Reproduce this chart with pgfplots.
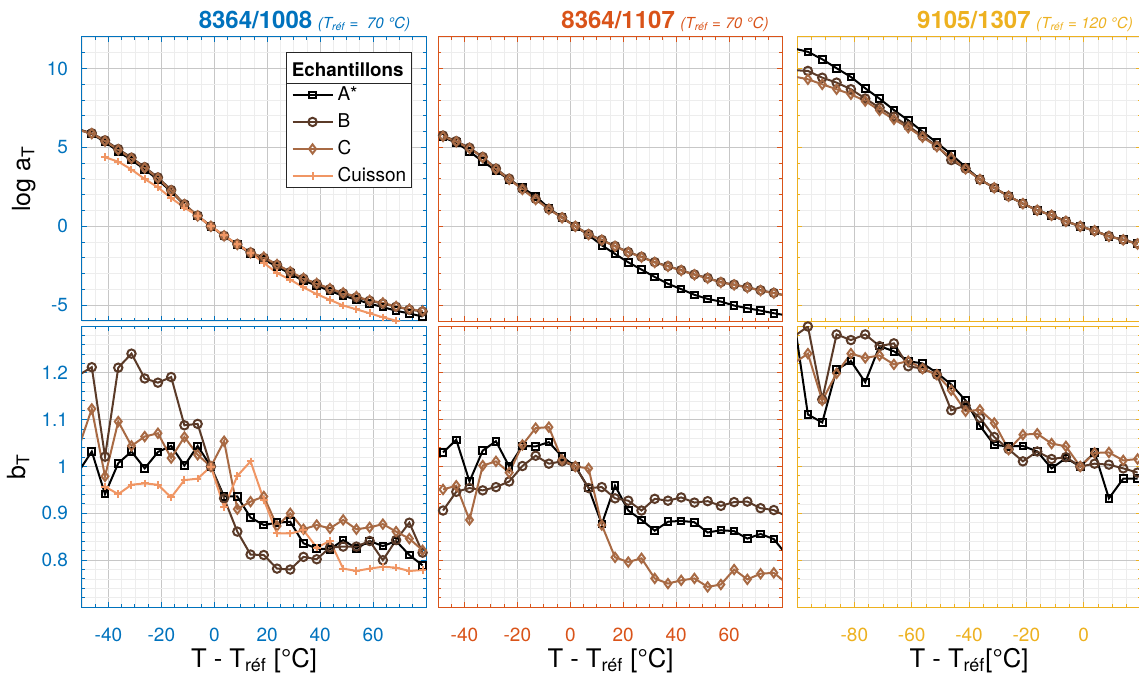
\documentclass[border=0pt]{standalone}
\usepackage{pgfplots}
\usepackage{pgfplotstable}
\pgfplotsset{compat=1.18}
\usepackage{fontspec}
\setmainfont{TeX Gyre Heros}
\definecolor{cA}{RGB}{0,114,189}
\definecolor{cB}{RGB}{217,83,25}
\definecolor{cC}{RGB}{237,177,32}
\definecolor{colB}{RGB}{90,58,40}
\definecolor{colC}{RGB}{168,106,68}
\definecolor{colD}{RGB}{240,150,100}

% ---------- data ----------
\pgfplotstableread{
T A B C D
-51.3 6.15 6.15 6.10 nan
-46.3 5.85 5.90 5.88 nan
-41.3 5.35 5.45 5.40 4.38
-36.3 4.75 4.90 4.85 4.10
-31.3 4.20 4.35 4.30 3.60
-26.3 3.62 3.75 3.70 3.00
-21.3 2.95 3.10 3.05 2.47
-16.3 2.20 2.30 2.25 1.79
-11.3 1.35 1.40 1.38 1.19
-6.3 0.65 0.68 0.66 0.66
-1.3 0 0 0 0
3.7 -0.62 -0.60 -0.60 -0.57
8.7 -1.17 -1.13 -1.15 -1.15
13.7 -1.72 -1.66 -1.68 -1.68
18.7 -2.10 -2.00 -1.95 -2.32
23.7 -2.55 -2.45 -2.42 -2.96
28.7 -3.00 -2.90 -2.88 -3.38
33.7 -3.45 -3.32 -3.30 -3.87
38.7 -3.75 -3.65 -3.62 -4.30
43.7 -4.10 -3.98 -3.95 -4.66
48.7 -4.40 -4.25 -4.22 -5.02
53.7 -4.65 -4.50 -4.45 -5.26
58.7 -4.90 -4.72 -4.70 -5.51
63.7 -5.12 -4.90 -4.85 -5.77
68.7 -5.35 -5.10 -5.08 -5.98
73.7 -5.52 -5.28 -5.25 -6.20
78.7 -5.72 -5.40 -5.36 -6.40
}\pAtop
\pgfplotstableread{
T A B C D
-51.3 0.989 1.195 1.040 nan
-46.3 1.032 1.212 1.123 nan
-41.3 0.941 1.021 0.979 0.957
-36.3 1.007 1.211 1.096 0.941
-31.3 1.032 1.241 1.044 0.961
-26.3 0.996 1.188 1.064 0.964
-21.3 1.031 1.179 1.071 0.961
-16.3 1.044 1.191 1.018 0.934
-11.3 1.002 1.088 1.063 0.971
-6.3 1.044 1.091 1.025 0.974
-1.3 1 1 1 1
3.7 0.936 0.932 1.054 0.913
8.7 0.936 0.861 0.909 0.980
13.7 0.891 0.812 0.925 1.011
18.7 0.875 0.811 0.936 0.929
23.7 0.880 0.782 0.873 0.857
28.7 0.882 0.780 0.900 0.857
33.7 0.836 0.807 0.866 0.864
38.7 0.825 0.802 0.875 0.827
43.7 0.823 0.827 0.868 0.841
48.7 0.843 0.829 0.886 0.782
53.7 0.825 0.829 0.866 0.777
58.7 0.841 0.841 0.870 0.782
63.7 0.830 0.800 0.877 0.786
68.7 0.841 0.843 0.861 0.784
73.7 0.811 0.880 0.846 0.777
78.7 0.789 0.816 0.821 0.779
}\pAbot
\pgfplotstableread{
T A B C
-48.1 5.65 5.75 5.70
-43.1 5.30 5.40 5.36
-38.1 4.75 4.98 4.94
-33.1 4.10 4.40 4.36
-28.1 3.55 3.66 3.62
-23.1 2.95 3.02 2.98
-18.1 2.45 2.38 2.34
-13.1 1.90 1.74 1.70
-8.1 1.15 1.10 1.08
-3.1 0.55 0.56 0.54
1.9 0 0 0
6.9 -0.55 -0.50 -0.52
11.9 -1.20 -0.86 -0.88
16.9 -1.75 -1.25 -1.27
21.9 -2.28 -1.63 -1.65
26.9 -2.74 -1.93 -1.95
31.9 -3.21 -2.27 -2.29
36.9 -3.64 -2.52 -2.54
41.9 -3.98 -2.78 -2.80
46.9 -4.34 -3.05 -3.07
51.9 -4.60 -3.27 -3.29
56.9 -4.77 -3.54 -3.56
61.9 -5.02 -3.69 -3.71
66.9 -5.19 -3.86 -3.88
71.9 -5.34 -4.05 -4.07
76.9 -5.51 -4.22 -4.24
81.9 -5.65 -4.40 -4.42
}\pBtop
\pgfplotstableread{
T A B C
-48.1 1.030 0.906 0.951
-43.1 1.057 0.946 0.959
-38.1 0.968 0.954 0.886
-33.1 1.034 0.949 1.002
-28.1 1.054 0.956 1.011
-23.1 1.000 0.968 0.987
-18.1 1.044 1.001 1.046
-13.1 1.043 1.023 1.082
-8.1 1.052 1.006 1.084
-3.1 1.021 1.011 1.014
1.9 1 1 1
6.9 0.954 0.954 0.996
11.9 0.877 0.956 0.875
16.9 0.959 0.932 0.806
21.9 0.906 0.927 0.796
26.9 0.886 0.906 0.804
31.9 0.863 0.931 0.761
36.9 0.882 0.927 0.750
41.9 0.884 0.934 0.757
46.9 0.881 0.923 0.761
51.9 0.859 0.926 0.743
56.9 0.864 0.916 0.748
61.9 0.862 0.924 0.780
66.9 0.846 0.925 0.759
71.9 0.856 0.911 0.771
76.9 0.845 0.907 0.773
81.9 0.810 0.893 0.750
}\pBbot
\pgfplotstableread{
T A B C
-101.2 11.28 9.90 9.50
-96.2 11.06 9.85 9.32
-91.2 10.59 9.42 9.00
-86.2 10.02 9.11 8.69
-81.2 9.47 8.69 8.37
-76.2 8.75 8.10 7.94
-71.2 8.09 7.52 7.35
-66.2 7.37 6.95 6.78
-61.2 6.72 6.36 6.25
-56.2 6.00 5.72 5.65
-51.2 5.30 5.10 5.05
-46.2 4.56 4.20 4.35
-41.2 3.75 3.66 3.64
-36.2 2.97 2.97 2.97
-31.2 2.44 2.44 2.44
-26.2 1.91 1.91 1.91
-21.2 1.44 1.44 1.44
-16.2 1.02 1.02 1.02
-11.2 0.70 0.70 0.70
-6.2 0.32 0.32 0.32
-1.2 0 0 0
3.8 -0.28 -0.28 -0.28
8.8 -0.64 -0.62 -0.64
13.8 -0.85 -0.85 -0.86
18.8 -1.10 -1.10 -1.12
}\pCtop
\pgfplotstableread{
T A B C
-101.2 1.320 1.277 1.220
-96.2 1.111 1.299 1.241
-91.2 1.094 1.143 1.141
-86.2 1.207 1.282 1.199
-81.2 1.225 1.270 1.241
-76.2 1.180 1.282 1.232
-71.2 1.257 1.257 1.237
-66.2 1.246 1.263 1.218
-61.2 1.225 1.214 1.225
-56.2 1.220 1.209 1.209
-51.2 1.200 1.196 1.196
-46.2 1.175 1.120 1.163
-41.2 1.141 1.130 1.118
-36.2 1.087 1.104 1.121
-31.2 1.046 1.063 1.093
-26.2 1.043 1.037 1.036
-21.2 1.044 1.011 1.068
-16.2 1.032 1.032 1.070
-11.2 0.996 1.016 1.049
-6.2 1.018 1.020 1.043
-1.2 1 1 1
3.8 1.030 1.006 1.029
8.8 0.932 1.004 1.030
13.8 0.974 0.996 1.013
18.8 0.974 0.987 1.016
}\pCbot

\pgfplotsset{
  base/.style={scale only axis, width=172pt, grid=both, tick align=inside,
    major grid style={line width=0.4pt, draw=black!22},
    minor grid style={line width=0.4pt, draw=black!7},
    major tick length=2.5pt, minor tick length=1.4pt,
    /pgf/number format/assume math mode=true,
    tick label style={font=\fontsize{9.5}{11}\selectfont},
    xticklabel style={yshift=-7pt},
    yticklabel style={xshift=-3.5pt},
    axis line style={line width=0.5pt},
    tick style={line width=0.5pt},
    anchor=south west},
  pc/.style={axis line style={#1}, tick style={#1}, xticklabel style={#1}, yticklabel style={#1}},
  toprow/.style={height=142pt, ymin=-6, ymax=12, ytick={-5,0,5,10}, minor ytick={-6,-5,...,12}, xticklabels={}},
  botrow/.style={height=140.5pt, ymin=0.7, ymax=1.3, ytick={0.8,0.9,1,1.1,1.2}, minor ytick={0.70,0.72,...,1.31}},
  xA/.style={xmin=-50, xmax=80, xtick={-40,-20,0,20,40,60}, minor xtick={-50,-45,...,80}},
  xC/.style={xmin=-100, xmax=20, xtick={-80,-60,-40,-20,0}, minor xtick={-100,-95,...,20}},
  stA/.style={black, line width=1pt, mark=square, mark size=1.65pt, mark options={solid}},
  stB/.style={colB, line width=1pt, mark=o, mark size=2.1pt, mark options={solid}},
  stC/.style={colC, line width=1pt, mark=diamond, mark size=2.3pt, mark options={solid}},
  stD/.style={colD, line width=1pt, mark=+, mark size=1.9pt, mark options={solid}},
}

\begin{document}
\begin{tikzpicture}
\useasboundingbox (0,0) rectangle (569.5pt,340.5pt);

% ===== column 1 =====
\begin{axis}[base, toprow, xA, pc=cA, at={(41pt,180pt)},
  legend cell align=left,
  legend image code/.code={\draw[mark repeat=2,mark phase=2,#1] plot coordinates {(0pt,0pt) (10pt,0pt) (20pt,0pt)};},
  legend style={name=leg, at={(0.9584,0.837)}, anchor=north east, draw=black!85, line width=0.5pt,
    fill=white, inner xsep=2.5pt, inner ysep=1.45pt, row sep=5pt, column sep=2pt,
    nodes={inner sep=0pt}, font=\fontsize{9.5}{11}\selectfont}]
\addplot[stA] table[x=T,y=A]{\pAtop};
\addlegendentry{A*}
\addplot[stB] table[x=T,y=B]{\pAtop};
\addlegendentry{B}
\addplot[stC] table[x=T,y=C]{\pAtop};
\addlegendentry{C}
\addplot[stD] table[x=T,y=D]{\pAtop};
\addlegendentry{Cuisson}
\end{axis}
\draw[black!85, line width=0.5pt, fill=white] (leg.north west) rectangle ([yshift=15.4pt]leg.north east);
\node[anchor=base west, inner sep=0pt, font=\fontsize{9.4}{11}\selectfont\bfseries] at ([xshift=2.7pt,yshift=3.6pt]leg.north west) {Echantillons};

\begin{axis}[base, botrow, xA, pc=cA, at={(41pt,37pt)}]
\addplot[stA] table[x=T,y=A]{\pAbot};
\addplot[stB] table[x=T,y=B]{\pAbot};
\addplot[stC] table[x=T,y=C]{\pAbot};
\addplot[stD] table[x=T,y=D]{\pAbot};
\end{axis}

% ===== column 2 =====
\begin{axis}[base, toprow, xA, pc=cB, yticklabels={}, at={(219pt,180pt)}]
\addplot[stA] table[x=T,y=A]{\pBtop};
\addplot[stB] table[x=T,y=B]{\pBtop};
\addplot[stC] table[x=T,y=C]{\pBtop};
\end{axis}
\begin{axis}[base, botrow, xA, pc=cB, yticklabels={}, at={(219pt,37pt)}]
\addplot[stA] table[x=T,y=A]{\pBbot};
\addplot[stB] table[x=T,y=B]{\pBbot};
\addplot[stC] table[x=T,y=C]{\pBbot};
\end{axis}

% ===== column 3 =====
\begin{axis}[base, toprow, xC, pc=cC, yticklabels={}, at={(398.5pt,180pt)}]
\addplot[stA] table[x=T,y=A]{\pCtop};
\addplot[stB] table[x=T,y=B]{\pCtop};
\addplot[stC] table[x=T,y=C]{\pCtop};
\end{axis}
\begin{axis}[base, botrow, xC, pc=cC, yticklabels={}, at={(398.5pt,37pt)}]
\addplot[stA] table[x=T,y=A]{\pCbot};
\addplot[stB] table[x=T,y=B]{\pCbot};
\addplot[stC] table[x=T,y=C]{\pCbot};
\end{axis}

% ===== titles =====
\node[anchor=base, text=cA, inner sep=0pt] at (152.25pt,326.4pt)
  {{\fontsize{12}{14}\selectfont\bfseries 8364/1008} {\fontsize{7.6}{9}\selectfont\itshape (T\textsubscript{réf} =\ \ 70 °C)}};
\node[anchor=base, text=cB, inner sep=0pt] at (332.5pt,326.4pt)
  {{\fontsize{12}{14}\selectfont\bfseries 8364/1107} {\fontsize{7.6}{9}\selectfont\itshape (T\textsubscript{réf} = 70 °C)}};
\node[anchor=base, text=cC, inner sep=0pt] at (512.5pt,326.4pt)
  {{\fontsize{12}{14}\selectfont\bfseries 9105/1307} {\fontsize{7.6}{9}\selectfont\itshape (T\textsubscript{réf} = 120 °C)}};

% ===== axis labels =====
\node[rotate=90, anchor=base, inner sep=0pt, font=\fontsize{12.5}{14}\selectfont] at (15pt,251pt) {log a\textsubscript{T}};
\node[rotate=90, anchor=base, inner sep=0pt, font=\fontsize{12.5}{14}\selectfont] at (12.5pt,107.25pt) {b\textsubscript{T}};
\node[anchor=base, inner sep=0pt, font=\fontsize{12.8}{14}\selectfont] at (127pt,7pt) {T - T\textsubscript{réf} [°C]};
\node[anchor=base, inner sep=0pt, font=\fontsize{12.8}{14}\selectfont] at (305.25pt,7pt) {T - T\textsubscript{réf} [°C]};
\node[anchor=base, inner sep=0pt, font=\fontsize{12.8}{14}\selectfont] at (484.5pt,7pt) {T - T\textsubscript{réf}[°C]};
\end{tikzpicture}
\end{document}
